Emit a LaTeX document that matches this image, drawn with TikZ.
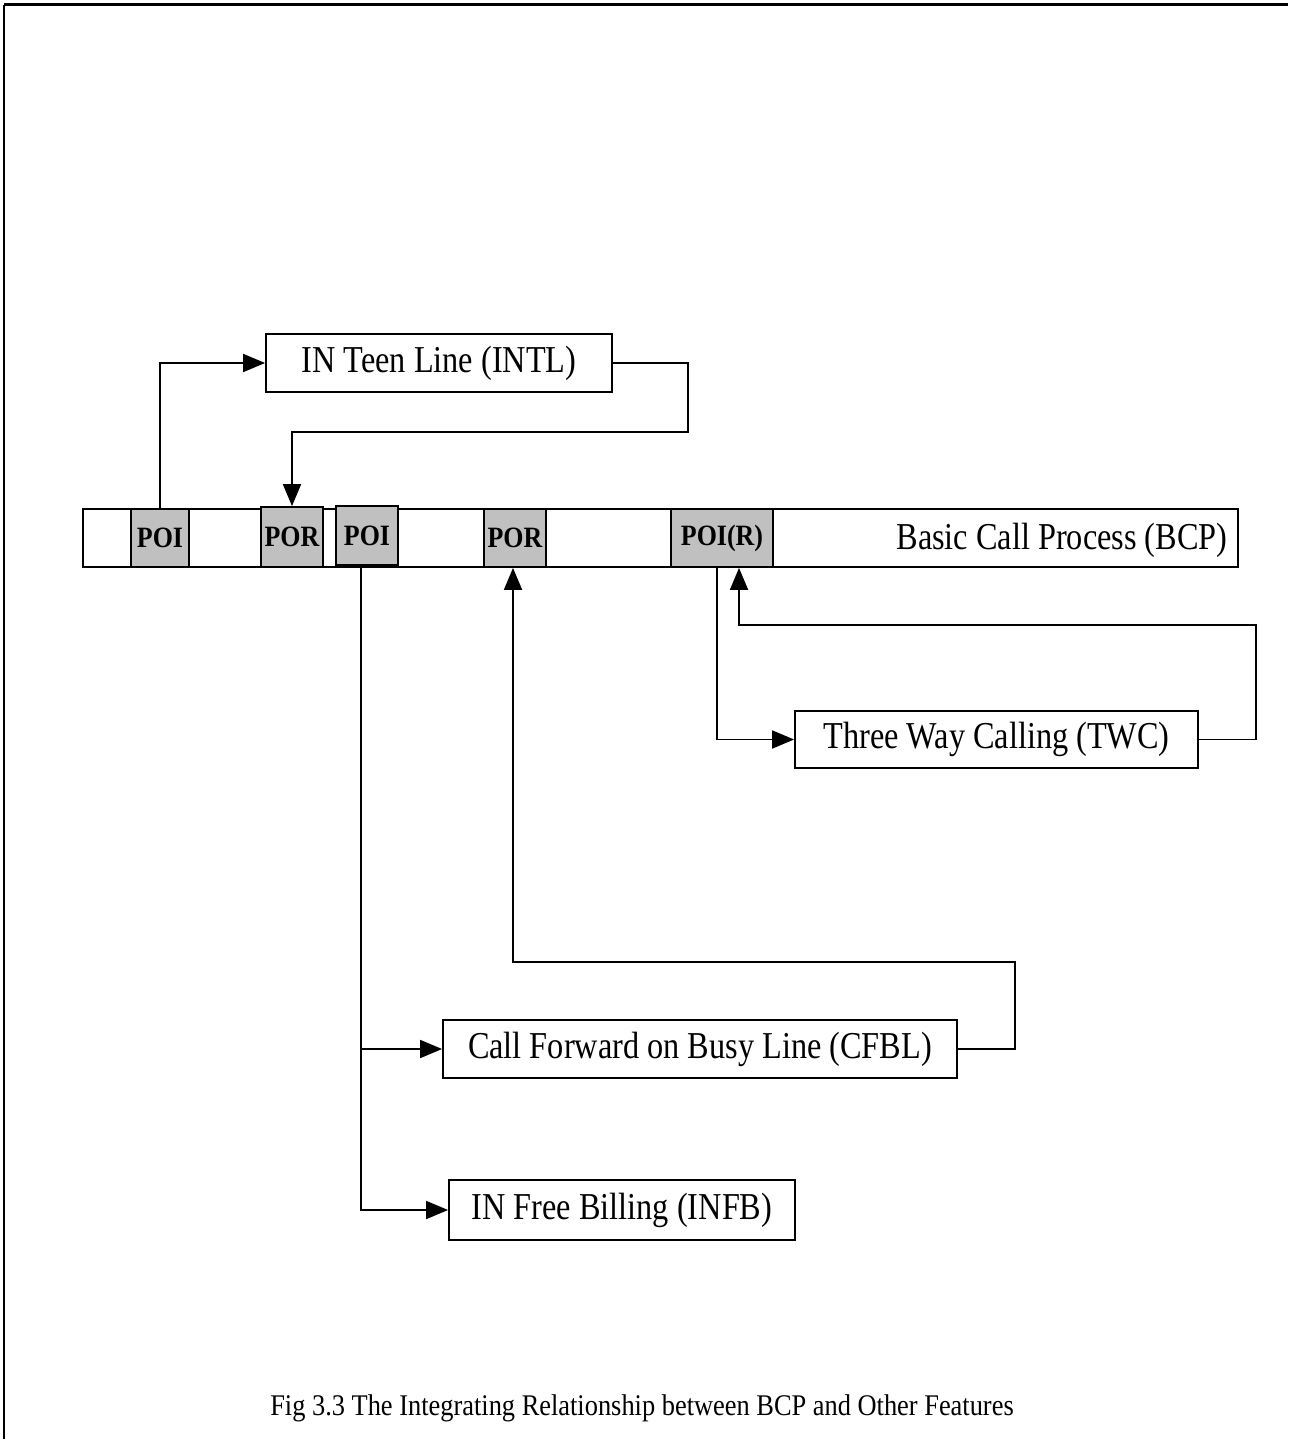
\documentclass[tikz,border=0pt]{standalone}
\usepackage{fontspec}
\setmainfont{Liberation Serif}
\newfontfamily\boxfont[FakeStretch=0.85]{Liberation Serif}
\newfontfamily\capfont[FakeStretch=0.88]{Liberation Serif}
\usepackage{tikz}
\usetikzlibrary{positioning, arrows.meta, calc}
\usepackage{xcolor}
\definecolor{pointGray}{HTML}{C0C0C0}

\begin{document}
\begin{tikzpicture}[x=1pt, y=-1pt, line width=1.8pt,
    featbox/.style={draw, rectangle, inner sep=0pt, minimum height=58pt,
      font=\boxfont\fontsize{38}{44}\selectfont},
    pointbox/.style={draw, fill=pointGray, rectangle, inner sep=0pt,
      minimum width=60pt, minimum height=58pt,
      font=\capfont\fontsize{29.5}{34}\selectfont\bfseries},
    flow/.style={-{Triangle[length=22pt, width=18pt]}}]
  \useasboundingbox (0,0) rectangle (1288,1439);
  % Rahmen (nur oben und links)
  \draw[line width=3pt] (4,5) -- (1288,5);
  \draw (4,5) -- (4,1439);

  % Basic Call Process
  \node[draw, rectangle, inner sep=0pt, minimum width=1155pt, minimum height=58pt]
    (bcp) at (660.5,538) {};
  \node[font=\boxfont\fontsize{38}{44}\selectfont] (bcplabel) at (1062,540) {Basic Call Process (BCP)};
  \node[pointbox, minimum width=58pt] (poi1) at (160,538) {POI};
  \node[pointbox, minimum width=62pt, minimum height=60pt] (por1) at (292,537) {POR};
  \node[pointbox, minimum width=62pt, minimum height=59pt] (poi2) at (367,535.5) {POI};
  \node[pointbox, minimum width=62pt] (por2) at (515,538) {POR};
  \node[pointbox, minimum width=102pt] (poir) at (722,538) {POI(R)};

  % Features
  \node[featbox, minimum width=346pt] (intl) at (439,363) {IN Teen Line (INTL)};
  \node[featbox, minimum width=403pt, minimum height=57pt] (twc) at (996.5,739.5) {Three Way Calling (TWC)};
  \node[featbox, minimum width=514pt] (cfbl) at (700,1049) {Call Forward on Busy Line (CFBL)};
  \node[featbox, minimum width=346pt, minimum height=60pt] (infb) at (622,1210) {IN Free Billing (INFB)};

  % Knickpunkte
  \coordinate (intlR) at (688,432);
  \coordinate (twcR) at (1256,625);
  \coordinate (cfblR) at (1015,962);

  % Verbindungen
  \draw[flow] (poi1.north) |- (intl.west);
  \draw[flow] (intl.east) -| (intlR) -| (por1.north);
  \draw[flow] ([xshift=-6pt]poi2.south) |- (infb.west);
  \draw[flow] ([xshift=-6pt]poi2.south |- cfbl.west) -- (cfbl.west);
  \draw[flow] (cfbl.east) -| (cfblR) -| ([xshift=-2pt]por2.south);
  \draw[flow] ([xshift=-5pt]poir.south) |- (twc.west);
  \draw[flow] (twc.east) -| (twcR) -| ([xshift=17pt]poir.south);

  % Bildunterschrift
  \node[font=\capfont\fontsize{30}{35}\selectfont] (caption) at (642,1408)
    {Fig 3.3 The Integrating Relationship between BCP and Other Features};
\end{tikzpicture}
\end{document}
